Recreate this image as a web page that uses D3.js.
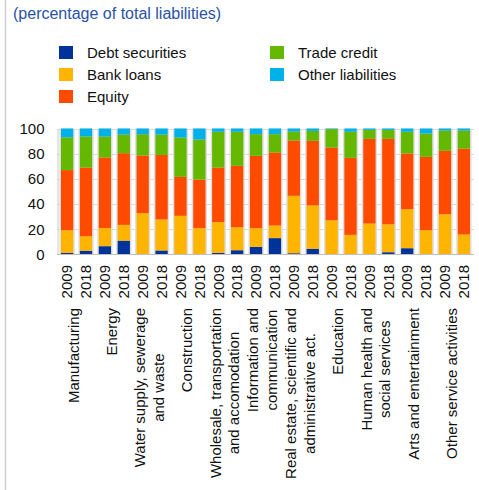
<!DOCTYPE html>
<html>
<head>
<meta charset="utf-8">
<script src="https://cdn.jsdelivr.net/npm/d3@7"></script>
<style>
  body { margin: 0; background: #fff; }
  svg { display: block; font-family: "Liberation Sans", Arial, sans-serif; }
</style>
</head>
<body>
<svg id="chart" width="479" height="490"></svg>
<script>
// sectors (two bars each: 2009, 2018)
var sectors = [
  ["Manufacturing"],
  ["Energy"],
  ["Water supply, sewerage", "and waste"],
  ["Construction"],
  ["Wholesale, transportation", "and accomodation"],
  ["Information and", "communication"],
  ["Real estate, scientific and", "administrative act."],
  ["Education"],
  ["Human health and", "social services"],
  ["Arts and entertainment"],
  ["Other service activities"]
];
var years = ["2009", "2018"];

var seriesNames = ["Debt securities", "Bank loans", "Equity", "Trade credit", "Other liabilities"];
var seriesColors = ["#003399", "#ffb400", "#ff4b00", "#65b800", "#00b1ea"];

// values per bar, in order sector1-2009, sector1-2018, ...
var debt   = [1.3, 3, 6.6, 11, 0, 3.2, 0.3, 0.5, 1.3, 3.4, 6.1, 13, 1, 4.5, 0, 0, 0, 1.8, 5, 0, 0, 0];
var bank   = [18, 11.5, 14.4, 12.5, 32.8, 24.6, 30.4, 20.5, 24.4, 18.3, 14.8, 10, 45.6, 34.4, 27.2, 15.6, 24.6, 22.2, 31, 19.3, 32, 15.9];
var equity = [47.7, 54.5, 56, 56.9, 45.8, 51.2, 30.9, 38.5, 43.3, 48.7, 57.4, 58, 43.9, 51.3, 57.7, 61.1, 67.2, 67.8, 44.2, 58.2, 50.3, 68.1];
var trade  = [26, 24.7, 16.7, 14.8, 16.9, 16.2, 31.3, 31.8, 28.4, 27, 17.2, 14.5, 7.1, 7.9, 14.6, 20.7, 7.1, 7.1, 17.2, 18.5, 16.1, 14.4];
var other  = [7, 6.3, 6.3, 4.8, 4.5, 4.8, 7.1, 8.7, 2.6, 2.6, 4.5, 4.5, 2.4, 1.9, 0.5, 2.6, 1.1, 1.1, 2.6, 4, 1.6, 1.6];

var yTicks = [0, 20, 40, 60, 80, 100];

var svg = d3.select("#chart");

// build table for stacking
var bars = [];
sectors.forEach(function(s, i) {
  years.forEach(function(yr, j) {
    var k = i * 2 + j;
    bars.push({ id: k, year: yr, sector: i,
      "Debt securities": debt[k], "Bank loans": bank[k], "Equity": equity[k],
      "Trade credit": trade[k], "Other liabilities": other[k] });
  });
});

var x = d3.scaleBand()
  .domain(bars.map(function(d) { return d.id; }))
  .range([57, 474])
  .paddingInner(0.35)
  .paddingOuter(0.21);

var y = d3.scaleLinear().domain([0, 100]).range([254.5, 128.5]);

// left frame line
svg.append("line")
  .attr("x1", 5.5).attr("x2", 5.5).attr("y1", 0).attr("y2", 490)
  .attr("stroke", "#d0d0d0").attr("stroke-width", 1.5);

// title
svg.append("text")
  .attr("x", 13).attr("y", 19)
  .attr("fill", "#2a53a6")
  .style("font-size", "16px")
  .text("(percentage of total liabilities)");

// legend
var legendPos = [[59, 46], [59, 68], [59, 90], [270, 46], [270, 68]];
var legend = svg.append("g");
seriesNames.forEach(function(name, i) {
  var p = legendPos[i];
  legend.append("rect")
    .attr("x", p[0]).attr("y", p[1]).attr("width", 14).attr("height", 13)
    .attr("fill", seriesColors[i]);
  legend.append("text")
    .attr("x", p[0] + 28).attr("y", p[1] + 11.5)
    .style("font-size", "15px").attr("fill", "#111")
    .text(name);
});

// gridlines
svg.append("g").selectAll("line")
  .data(yTicks.filter(function(t) { return t > 0; }))
  .enter().append("line")
  .attr("x1", 57).attr("x2", 474)
  .attr("y1", function(d) { return Math.round(y(d)) + 0.5; })
  .attr("y2", function(d) { return Math.round(y(d)) + 0.5; })
  .attr("stroke", "#d9d9d9");

// y axis
var yAxis = svg.append("g")
  .attr("transform", "translate(57.5,0)")
  .call(d3.axisLeft(y).tickValues(yTicks).tickSize(0).tickPadding(13));
yAxis.select(".domain").attr("stroke", "#cccccc");
yAxis.selectAll("text").style("font-size", "15px").attr("fill", "#111")
  .style("font-family", "'Liberation Sans', Arial, sans-serif");

// bar halos
svg.append("g").selectAll("rect")
  .data(bars).enter().append("rect")
  .attr("x", function(d) { return x(d.id) - 1.5; })
  .attr("width", x.bandwidth() + 3)
  .attr("y", y(100))
  .attr("height", y(0) - y(100))
  .attr("fill", "#dedede");

// stacked bars
var stack = d3.stack().keys(seriesNames);
var layers = stack(bars);
svg.append("g").selectAll("g")
  .data(layers).enter().append("g")
  .attr("fill", function(d, i) { return seriesColors[i]; })
  .selectAll("rect")
  .data(function(d) { return d; })
  .enter().append("rect")
  .attr("x", function(d) { return x(d.data.id); })
  .attr("width", x.bandwidth())
  .attr("y", function(d) { return y(d[1]); })
  .attr("height", function(d) { return Math.max(0, y(d[0]) - y(d[1])); });

// bottom axis line
svg.append("line")
  .attr("x1", 57).attr("x2", 474).attr("y1", 254.5).attr("y2", 254.5)
  .attr("stroke", "#bfbfbf");

// year labels
svg.append("g").selectAll("text")
  .data(bars).enter().append("text")
  .attr("transform", function(d) {
    return "translate(" + (x(d.id) + x.bandwidth() / 2) + ",265) rotate(-90)";
  })
  .attr("text-anchor", "end")
  .attr("dy", "0.35em")
  .style("font-size", "15px").attr("fill", "#111")
  .text(function(d) { return d.year; });

// sector labels: block top aligned, lines centred in the block
var catG = svg.append("g");
sectors.forEach(function(lines, i) {
  var cx = (x(i * 2) + x(i * 2 + 1) + x.bandwidth()) / 2 - 3;
  var lh = 18.7;
  var x0 = cx - (lines.length - 1) * lh / 2;
  var texts = lines.map(function(t, j) {
    return catG.append("text")
      .attr("text-anchor", "end")
      .attr("dy", "0.35em")
      .style("font-size", "15px").attr("fill", "#111")
      .text(t);
  });
  var lens = texts.map(function(t) { return t.node().getComputedTextLength(); });
  var maxLen = d3.max(lens);
  texts.forEach(function(t, j) {
    var top = 308 + (maxLen - lens[j]) / 2;
    t.attr("transform", "translate(" + (x0 + j * lh) + "," + top + ") rotate(-90)");
  });
});
</script>
</body>
</html>
